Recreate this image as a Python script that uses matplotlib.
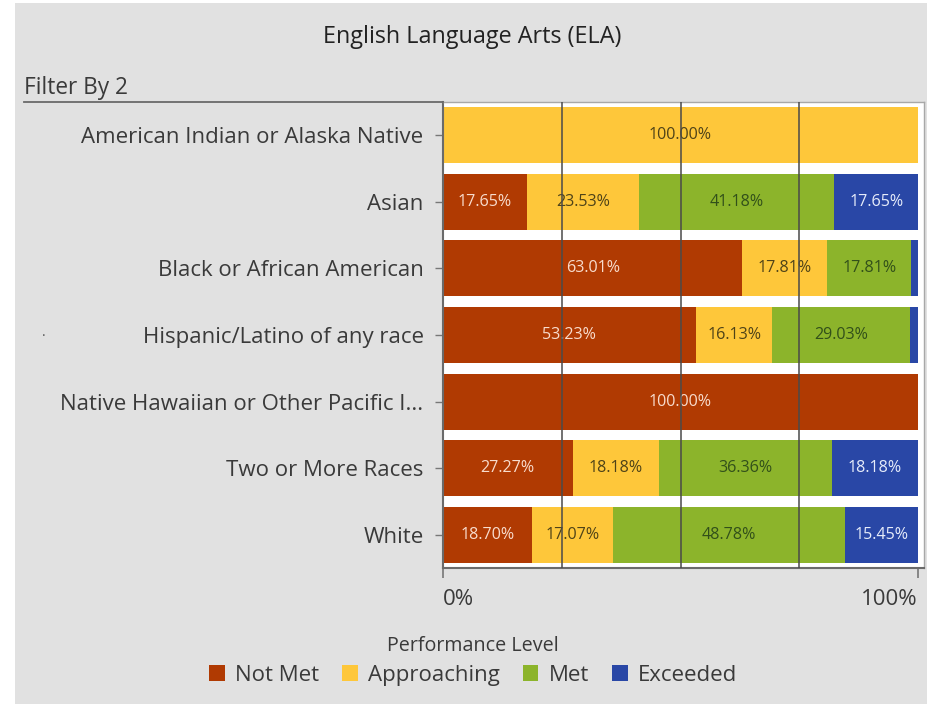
import matplotlib
matplotlib.use("Agg")
import matplotlib.pyplot as plt
from matplotlib.patches import Rectangle, Patch
from matplotlib.lines import Line2D
import numpy as np

plt.rcParams['font.family'] = ['Open Sans', 'DejaVu Sans']

categories = [
    "American Indian or Alaska Native",
    "Asian",
    "Black or African American",
    "Hispanic/Latino of any race",
    "Native Hawaiian or Other Pacific I...",
    "Two or More Races",
    "White",
]
levels = ["Not Met", "Approaching", "Met", "Exceeded"]
not_met     = [0.00, 17.65, 63.01, 53.23, 100.00, 27.27, 18.70]
approaching = [100.00, 23.53, 17.81, 16.13, 0.00, 18.18, 17.07]
met         = [0.00, 41.18, 17.81, 29.03, 0.00, 36.36, 48.78]
exceeded    = [0.00, 17.65, 1.37, 1.61, 0.00, 18.18, 15.45]
x_tick_labels = ["0%", "100%"]

series = [not_met, approaching, met, exceeded]
colors = ["#B03A02", "#FEC73A", "#8CB42B", "#2947A6"]
text_colors = ["#F8DCCD", "#4F4318", "#32501A", "#E6ECFA"]

W, H = 927, 704
fig = plt.figure(figsize=(W / 100, H / 100), dpi=100, facecolor="white")
bg = "#E1E1E1"
fig.patches.append(Rectangle((15 / W, 0), 1 - 15 / W, 1 - 3 / H, transform=fig.transFigure,
                             facecolor=bg, edgecolor="none", zorder=-10))

ax = fig.add_axes([443 / W, 1 - 568 / H, (924 - 443) / W, (568 - 102) / H])
ax.set_facecolor("white")

y = np.arange(len(categories))
left = np.zeros(len(categories))
for vals, c, tc in zip(series, colors, text_colors):
    vals = np.array(vals)
    ax.barh(y, vals, left=left, height=0.84, color=c, edgecolor="none", zorder=2)
    for yi, (v, l) in enumerate(zip(vals, left)):
        if v >= 5:
            ax.text(l + v / 2, yi, f"{v:.2f}%", ha="center", va="center",
                    fontsize=11.6, color=tc, zorder=3)
    left += vals

xmax = 100 * (924 - 443) / (918 - 443)
ax.set_xlim(0, xmax)
ax.set_ylim(len(categories) - 0.5, -0.5)

for gx in [25, 50, 75]:
    ax.axvline(gx, color="#4A4A4A", lw=1.1, zorder=4)

ax.set_yticks(y)
ax.set_yticklabels(categories, fontsize=16, color="#3A3A3A")
ax.set_xticks([0, 100])
ax.set_xticklabels(x_tick_labels, fontsize=16, color="#3A3A3A")
xl = ax.get_xticklabels()
xl[0].set_ha("left")
xl[1].set_ha("right")
ax.tick_params(axis="x", length=7, width=1.2, color="#777777", pad=8)
ax.tick_params(axis="y", length=6, width=1.0, color="#777777", pad=8)

for s in ["left", "bottom"]:
    ax.spines[s].set_color("#6A6A6A")
    ax.spines[s].set_linewidth(1.5)
for s in ["top", "right"]:
    ax.spines[s].set_color("#A8A8A8")
    ax.spines[s].set_linewidth(1.0)

# Title and header
fig.text(472 / W, 1 - 37 / H, "English Language Arts (ELA)", ha="center", va="center",
         fontsize=16.8, color="#222222")
fig.text(24 / W, 1 - 88 / H, "Filter By 2", ha="left", va="center",
         fontsize=16.3, color="#3A3A3A")
fig.lines.append(Line2D([24 / W, 443 / W], [1 - 101.5 / H, 1 - 101.5 / H],
                        transform=fig.transFigure, color="#6A6A6A", lw=1.3))
fig.text(44 / W, 1 - 336 / H, "·", ha="center", va="center", fontsize=10, color="#555555")

# Legend
handles = [Patch(facecolor=c, edgecolor="none", label=l) for c, l in zip(colors, levels)]
leg = fig.legend(handles=handles, loc="center", bbox_to_anchor=(473 / W, 1 - 661 / H),
                 ncol=4, frameon=False, fontsize=16, title="Performance Level",
                 title_fontsize=14.2, handlelength=0.7, handleheight=0.7,
                 handletextpad=0.45, columnspacing=1.05, labelcolor="#3A3A3A",
                 borderpad=0.2, labelspacing=0.2)
leg.get_title().set_color("#3A3A3A")
leg._legend_box.sep = 6

fig.savefig("out.png", dpi=100, facecolor=fig.get_facecolor())
